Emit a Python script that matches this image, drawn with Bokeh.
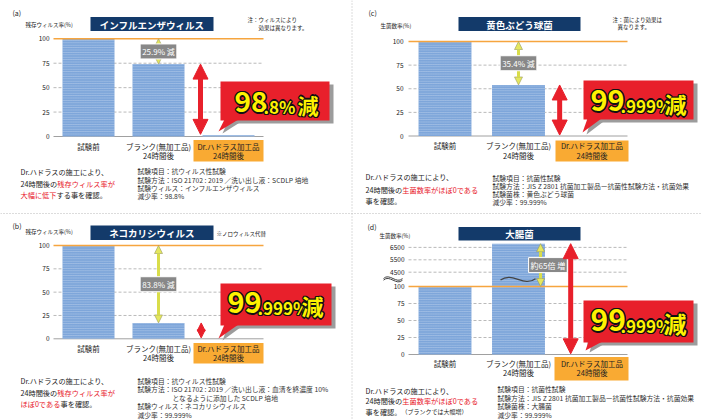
from bokeh.plotting import figure
from bokeh.models import Range1d, Arrow, NormalHead, Label
from bokeh.embed import file_html
from bokeh.resources import INLINE
from bokeh.core.properties import value

# ---------------- data ----------------
categories = ["試験前", "ブランク(無加工品)", "Dr.ハドラス加工品"]
category_sub = ["", "24時間後", "24時間後"]
titles = ["インフルエンザウィルス", "ネコカリシウィルス", "黄色ぶどう球菌", "大腸菌"]
panel_tags = ["(a)", "(b)", "(c)", "(d)"]
y_titles = ["残存ウィルス率(%)", "残存ウィルス率(%)", "生菌数率(%)", "生菌数率(%)"]
flu_values = [100, 74.1, 1.2]
feline_values = [100, 17.0, 0.001]
staph_values = [100, 54.0, 0.001]
ecoli_values = [100, 6800, 0.001]
pct_ticks = [0, 25, 50, 75, 100]
ecoli_ticks = [0, 25, 50, 75, 100, 4500, 5500, 6500]
change_labels = ["25.9% 減", "83.8% 減", "35.4% 減", "約65倍 増"]
big_main = ["98", "99", "99", "99"]
big_frac = [".8%", ".999%", ".999%", ".999%"]
big_unit = "減"
notes = [["注：ウィルスにより", "効果は異なります。"], ["※ノロウィルス代替"],
         ["注：菌により効果は", "異なります。"], []]
summary = [
    [[("Dr.ハドラスの施工により、", 0)], [("24時間後の", 0), ("残存ウィルス率が", 1)],
     [("大幅に低下", 1), ("する事を確認。", 0)]],
    [[("Dr.ハドラスの施工により、", 0)], [("24時間後の", 0), ("残存ウィルス率が", 1)],
     [("ほぼ0である", 1), ("事を確認。", 0)]],
    [[("Dr.ハドラスの施工により、", 0)], [("24時間後の", 0), ("生菌数率がほぼ0である", 1)],
     [("事を確認。", 0)]],
    [[("Dr.ハドラスの施工により、", 0)], [("24時間後の", 0), ("生菌数率がほぼ0である", 1)],
     [("事を確認。", 0), ("（ブランクでは大幅増）", 2)]],
]
test_info = [
    ["試験項目：抗ウィルス性試験", "試験方法：ISO  21702 : 2019 ／洗い出し液：SCDLP 培地",
     "試験ウィルス：インフルエンザウィルス", "減少率：98.8%"],
    ["試験項目：抗ウィルス性試験", "試験方法：ISO  21702 : 2019 ／洗い出し液：血清を終濃度 10%",
     "となるように添加した SCDLP 培地", "試験ウィルス：ネコカリシウィルス", "減少率：99.999%"],
    ["試験項目：抗菌性試験", "試験方法：JIS Z 2801 抗菌加工製品ー抗菌性試験方法・抗菌効果",
     "試験菌株：黄色ぶどう球菌", "減少率：99.999%"],
    ["試験項目：抗菌性試験", "試験方法：JIS Z 2801 抗菌加工製品ー抗菌性試験方法・抗菌効果",
     "試験菌株：大腸菌", "減少率：99.999%"],
]

# ---------------- styling / layout ----------------
W, H = 701, 420
FONTNAME = "Noto Sans CJK JP"
FONT = value(FONTNAME)
NAVY = "#133A6A"
ORANGE = "#F6A53F"
ORANGE_BOX = "#F9AA33"
BAR = "#7EA6DA"
RED = "#E8202B"
TXT = "#222222"

# broken axis for (d): lower part linear 0..100, upper part from 4500 compressed
ECO_K = 0.68
ECO_GAP = (286 - 271.7) / ECO_K
ECO_UPPER = 12.4 / 1000 / ECO_K


def eco(v):
    return v if v <= 100 else 100 + ECO_GAP + (v - 4500) * ECO_UPPER


ident = lambda v: v

P = [
    dict(vals=flu_values, ticks=pct_ticks, f=ident, xr="xl", yr="ya", y0=136.0, y100=38.3,
         tag=(12, 12), yt=(25, 24), tb=(90, 213, 16.5, 30.5), notes=[(247, 19), (258, 27)],
         tickx=49, gx=(53, 263), cy=(146, 155), ob=(193, 263, 139.5, 161), yax=1.0, rax=1.6,
         rhead=15, cb=(220, 81, 329, 120), tail=(224, 238, 218, 131),
         big=(234, 263, 297, 112, 28, 17, 21),
         lt=(20, [171.5, 183.5, 194.5]), rt=(137, [170.7, 179, 187.3, 195.5]), indent={}),
    dict(vals=feline_values, ticks=pct_ticks, f=ident, xr="xl", yr="yb", y0=338.3, y100=245.0,
         tag=(12, 225), yt=(25, 231), tb=(90, 213, 225, 239.5), notes=[(216, 233)],
         tickx=49, gx=(53, 263), cy=(348, 357), ob=(193, 263, 342.5, 363), yax=1.0, rax=1.61,
         rhead=8, cb=(220, 283, 331, 325), tail=(224, 238, 218, 338),
         big=(227, 257, 301, 313, 29, 17, 22),
         lt=(20, [380.5, 392, 403]), rt=(137, [380, 388.7, 397, 405.7, 414]), indent={2: 172}),
    dict(vals=staph_values, ticks=pct_ticks, f=ident, xr="xr", yr="yc", y0=135.5, y100=41.0,
         tag=(368, 12), yt=(380, 25), tb=(458, 580, 16.5, 30.5), notes=[(612, 19.5), (617, 26.5)],
         tickx=403, gx=(408, 627), cy=(145, 155), ob=(555, 628, 140, 161), yax=1.0, rax=1.56,
         rhead=15, cb=(583, 80, 693, 119), tail=(587, 601, 582, 132),
         big=(590, 620, 664, 111, 29, 17, 22),
         lt=(365, [176.7, 189, 200]), rt=(492, [177.3, 185.7, 193.5, 201.7]), indent={}),
    dict(vals=ecoli_values, ticks=ecoli_ticks, f=eco, xr="xr", yr="yd", y0=354.0, y100=286.0,
         tag=(367, 226), yt=(379, 235), tb=(458, 580, 226.5, 240), notes=[],
         tickx=404, gx=(408, 627), cy=(363, 372.3), ob=(554, 628, 356.5, 380), yax=1.3, rax=1.71,
         rhead=15, cb=(583, 300, 693, 342), tail=(588, 602, 585, 350),
         big=(590, 620, 663, 331, 30, 17, 23),
         lt=(365, [390, 400.5, 411]), rt=(497, [388.5, 397.5, 405.7, 414.3]), indent={}),
]

p = figure(width=W, height=H, x_range=Range1d(0, W), y_range=Range1d(H, 0),
           x_axis_type=None, y_axis_type=None, toolbar_location=None,
           output_backend="svg", min_border=0)
p.outline_line_color = None
p.background_fill_color = "white"
p.border_fill_color = "white"

# category scales: left panels centres 88,158,228 px ; right panels 444.5,518,591.5 px
p.extra_x_ranges = {
    "xl": Range1d(start=-88 / 70.0, end=(W - 88) / 70.0),
    "xr": Range1d(start=-444.5 / 73.5, end=(W - 444.5) / 73.5),
}
yr = {}
for d in P:
    k = (d["y0"] - d["y100"]) / 100.0
    yr[d["yr"]] = Range1d(start=(d["y0"] - H) / k, end=d["y0"] / k)
p.extra_y_ranges = yr

# dotted dividers
p.segment(x0=[351.5, 0], y0=[0, 213], x1=[351.5, W], y1=[H, 213],
          line_color="#B8B8B8", line_width=1, line_dash="1 2")


def est_w(s, fs):
    return sum(fs * (0.56 if ord(c) < 0x2000 else 1.0) for c in s)


OUTLINE = [(-1.4, 0), (1.4, 0), (0, -1.4), (0, 1.4), (-1, -1), (1, 1), (-1, 1), (1, -1)]

for i, d in enumerate(P):
    xr_, yr_ = d["xr"], d["yr"]
    f = d["f"]
    bw = 0.743 if xr_ == "xl" else 0.72
    pos = list(range(len(categories)))

    # tag, y title, title box, notes
    p.text(x=[d["tag"][0]], y=[d["tag"][1]], text=[panel_tags[i]], text_font=FONT,
           text_font_size="7px", text_color=TXT, text_baseline="middle")
    p.text(x=[d["yt"][0]], y=[d["yt"][1]], text=[y_titles[i]], text_font=FONT,
           text_font_size="5.5px", text_color=TXT, text_baseline="middle")
    x0, x1, t0, t1 = d["tb"]
    p.quad(left=[x0], right=[x1], top=[t0], bottom=[t1], fill_color=NAVY, line_color=None)
    p.text(x=[(x0 + x1) / 2], y=[(t0 + t1) / 2 + 0.5], text=[titles[i]], text_font=FONT,
           text_font_size="9.5px", text_font_style="bold", text_color="white",
           text_align="center", text_baseline="middle")
    for (nx, ny), nt in zip(d["notes"], notes[i]):
        p.text(x=[nx], y=[ny], text=[nt], text_font=FONT, text_font_size="5.5px",
               text_color=TXT, text_baseline="middle")

    # grid lines and tick labels
    ticks = d["ticks"]
    tv = [f(t) for t in ticks]
    dashed = [v for t, v in zip(ticks, tv) if t not in (0, 100)]
    gx0, gx1 = d["gx"]
    p.segment(x0=[gx0] * len(dashed), x1=[gx1] * len(dashed), y0=dashed, y1=dashed,
              y_range_name=yr_, line_color="#A8A8A8", line_width=0.8, line_dash="3 2")
    p.segment(x0=[gx0], x1=[gx1], y0=[f(0)], y1=[f(0)], y_range_name=yr_,
              line_color="#A0A0A0", line_width=1)
    p.text(x=[d["tickx"]] * len(ticks), y=tv, text=[str(t) for t in ticks], y_range_name=yr_,
           text_font=FONT, text_font_size="6.5px", text_color=TXT, text_align="right",
           text_baseline="middle")

    # bars
    p.vbar(x=pos, top=[f(v) for v in d["vals"]], bottom=0, width=bw,
           x_range_name=xr_, y_range_name=yr_, fill_color=BAR, line_color=None,
           hatch_pattern="horizontal_line", hatch_color="white", hatch_alpha=0.35,
           hatch_scale=2.4, hatch_weight=0.8)
    # 100 % reference line
    p.segment(x0=[gx0], x1=[gx1], y0=[f(100)], y1=[f(100)], y_range_name=yr_,
              line_color=ORANGE, line_width=1.6)

    # broken-axis marks for (d)
    if f is eco:
        by = (eco(100) + eco(4500)) / 2
        p.bezier(x0=[383, 383], y0=[by + 1.2, by - 1.2], x1=[402, 402], y1=[by + 1.2, by - 1.2],
                 cx0=[389, 389], cy0=[by + 10, by + 7.6], cx1=[396, 396], cy1=[by - 7.6, by - 10],
                 y_range_name=yr_, line_color="#444444", line_width=1)
        p.bezier(x0=[500], y0=[by - 1], x1=[535], y1=[by + 1], cx0=[512], cy0=[by + 12],
                 cx1=[523], cy1=[by - 12], y_range_name=yr_, line_color="#444444", line_width=1.3)

    # category labels
    ob0, ob1, oy0, oy1 = d["ob"]
    p.quad(left=[ob0], right=[ob1], top=[oy0], bottom=[oy1], fill_color=ORANGE_BOX,
           line_color=None)
    p.text(x=pos, y=[d["cy"][0]] * 3, text=categories, x_range_name=xr_, text_font=FONT,
           text_font_size="7.5px", text_color=TXT, text_align="center", text_baseline="middle")
    p.text(x=pos[1:], y=[d["cy"][1]] * 2, text=category_sub[1:], x_range_name=xr_,
           text_font=FONT, text_font_size="7.5px", text_color=TXT, text_align="center",
           text_baseline="middle")

    # yellow change arrow + label
    top_v = f(d["vals"][1])
    hundred = f(100)
    p.add_layout(Arrow(x_start=d["yax"], y_start=hundred, x_end=d["yax"], y_end=top_v,
                       x_range_name=xr_, y_range_name=yr_, line_color="#D9DD4A", line_width=3,
                       start=NormalHead(size=8, fill_color="#E4E75E", line_color="#9A9A60",
                                        line_width=0.6),
                       end=NormalHead(size=8, fill_color="#E4E75E", line_color="#9A9A60",
                                      line_width=0.6)))
    mid = (hundred + top_v) / 2
    p.add_layout(Label(x=d["yax"] + (0.1 if i == 3 else 0), y=mid, text=change_labels[i],
                       x_range_name=xr_, y_range_name=yr_, text_font=FONTNAME,
                       text_font_size="8px", text_color="white", text_align="center",
                       text_baseline="middle", background_fill_color="#888888",
                       border_line_color="white", border_line_width=1, padding=2))

    # red reduction arrow
    rh = d["rhead"]
    p.add_layout(Arrow(x_start=d["rax"], y_start=top_v, x_end=d["rax"], y_end=f(d["vals"][2]) + 1,
                       x_range_name=xr_, y_range_name=yr_, line_color=RED,
                       line_width=5 if rh > 10 else 4,
                       start=NormalHead(size=rh, fill_color=RED, line_color=RED),
                       end=NormalHead(size=rh, fill_color=RED, line_color=RED)))

    # callout: shadow + box and tail
    cx0, cy0, cx1, cy1 = d["cb"]
    bx0, bx1, tx, ty = d["tail"]
    p.quad(left=[cx0 + 4], right=[cx1 + 4], top=[cy0 + 3], bottom=[cy1 + 3],
           fill_color="#9C9C9C", line_color=None)
    p.patch(x=[bx0 + 4, bx1 + 6, tx + 4], y=[cy1 - 1, cy1 - 1, ty + 2], fill_color="#9C9C9C",
            line_color=None)
    p.quad(left=[cx0], right=[cx1], top=[cy0], bottom=[cy1], fill_color=RED, line_color=None)
    p.patch(x=[bx0, bx1, tx], y=[cy1 - 1, cy1 - 1, ty], fill_color=RED, line_color=None)
    mx, fx, ux, by_, fs1, fs2, fs3 = d["big"]
    for tx_, txt, fs in ((mx, big_main[i], fs1), (fx, big_frac[i], fs2), (ux, big_unit, fs3)):
        yy = by_ - 0.38 * fs
        p.text(x=[tx_ + dx for dx, dy in OUTLINE], y=[yy + dy for dx, dy in OUTLINE],
               text=[txt] * len(OUTLINE), text_font=FONT, text_font_size=f"{fs}px",
               text_font_style="bold", text_color="#111111",
               text_baseline="middle", text_align="left")
        p.text(x=[tx_], y=[yy], text=[txt], text_font=FONT, text_font_size=f"{fs}px",
               text_font_style="bold", text_color="#FFF200",
               text_baseline="middle", text_align="left")

    # summary text (left)
    lx, lys = d["lt"]
    for line, ly in zip(summary[i], lys):
        cx = lx
        for seg, kind in line:
            fs = 7.2 if kind != 2 else 6
            p.text(x=[cx], y=[ly], text=[seg], text_font=FONT, text_font_size=f"{fs}px",
                   text_color=(RED if kind == 1 else TXT), text_baseline="middle")
            cx += est_w(seg, fs)

    # test info (right)
    rx, rys = d["rt"]
    for j, (line, ry) in enumerate(zip(test_info[i], rys)):
        p.text(x=[d["indent"].get(j, rx)], y=[ry], text=[line], text_font=FONT,
               text_font_size="6.8px", text_color="#333333", text_baseline="middle")

open("out.html", "w").write(file_html(p, INLINE))
